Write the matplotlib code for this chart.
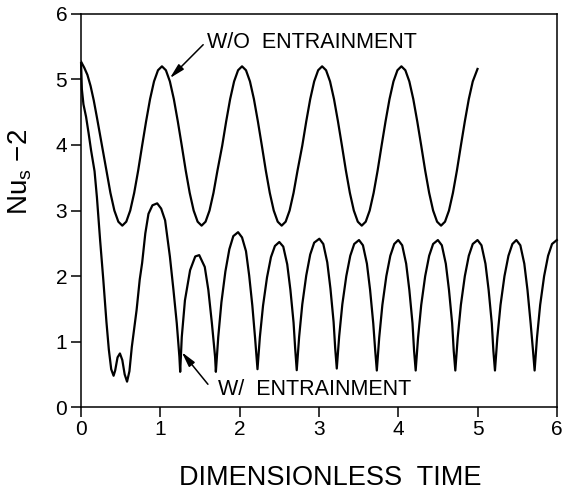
import matplotlib
matplotlib.use('Agg')
import matplotlib.pyplot as plt

matplotlib.rcParams['font.family'] = ['Liberation Sans', 'DejaVu Sans']
matplotlib.rcParams['mathtext.fontset'] = 'custom'
matplotlib.rcParams['mathtext.rm'] = 'Liberation Sans'
matplotlib.rcParams['mathtext.it'] = 'Liberation Sans:italic'

# Nu_s - 2 without entrainment
wo_t = [0.00, 0.04, 0.08, 0.12, 0.16, 0.20, 0.24, 0.28, 0.32, 0.37, 0.42, 0.47,
        0.52, 0.57, 0.62, 0.67, 0.72, 0.77, 0.82, 0.87, 0.92, 0.97,
        1.02, 1.07, 1.12, 1.17, 1.22, 1.27, 1.32, 1.37, 1.42, 1.47,
        1.52, 1.57, 1.62, 1.67, 1.72, 1.78, 1.83, 1.88, 1.93, 1.98,
        2.03, 2.08, 2.13, 2.18, 2.23, 2.28, 2.33, 2.38, 2.43, 2.48,
        2.53, 2.58, 2.63, 2.68, 2.73, 2.79, 2.84, 2.89, 2.94, 2.99,
        3.04, 3.09, 3.14, 3.19, 3.24, 3.29, 3.34, 3.39, 3.44, 3.49,
        3.54, 3.59, 3.64, 3.69, 3.74, 3.79, 3.84, 3.89, 3.94, 3.99,
        4.04, 4.09, 4.14, 4.19, 4.24, 4.29, 4.34, 4.39, 4.44, 4.49,
        4.54, 4.59, 4.64, 4.69, 4.74, 4.79, 4.84, 4.89, 4.94, 5.00]
wo_v = [5.27, 5.18, 5.07, 4.90, 4.68, 4.42, 4.15, 3.88, 3.61, 3.27, 3.00, 2.83,
        2.77, 2.83, 3.00, 3.27, 3.61, 3.99, 4.36, 4.70, 4.97, 5.14,
        5.20, 5.14, 4.97, 4.70, 4.36, 3.99, 3.61, 3.27, 3.00, 2.83,
        2.77, 2.83, 3.00, 3.27, 3.61, 3.99, 4.36, 4.70, 4.97, 5.14,
        5.20, 5.14, 4.97, 4.70, 4.36, 3.99, 3.61, 3.27, 3.00, 2.83,
        2.77, 2.83, 3.00, 3.27, 3.61, 3.99, 4.36, 4.70, 4.97, 5.14,
        5.20, 5.14, 4.97, 4.70, 4.36, 3.99, 3.61, 3.27, 3.00, 2.83,
        2.77, 2.83, 3.00, 3.27, 3.61, 3.99, 4.36, 4.70, 4.97, 5.14,
        5.20, 5.14, 4.97, 4.70, 4.36, 3.99, 3.61, 3.27, 3.00, 2.83,
        2.77, 2.83, 3.00, 3.27, 3.61, 3.99, 4.36, 4.70, 4.97, 5.16]

# Nu_s - 2 with entrainment
w_t = [0.000, 0.010, 0.030, 0.063, 0.095, 0.126, 0.150, 0.170, 0.200, 0.240,
       0.280, 0.320, 0.350, 0.380, 0.410, 0.430, 0.460, 0.490, 0.520, 0.550,
       0.580, 0.610, 0.640, 0.700, 0.740, 0.770, 0.810, 0.850, 0.900, 0.960,
       1.010, 1.060, 1.120, 1.165, 1.207, 1.240, 1.250,
       1.270, 1.310, 1.375, 1.440, 1.490, 1.560, 1.605, 1.650, 1.690, 1.700,
       1.730, 1.770, 1.820, 1.870, 1.920, 1.980, 2.030, 2.080, 2.120, 2.160, 2.195, 2.225,
       2.255, 2.295, 2.345, 2.395, 2.445, 2.500, 2.550, 2.600, 2.640, 2.680, 2.700, 2.720,
       2.750, 2.790, 2.840, 2.890, 2.940, 3.005, 3.055, 3.105, 3.145, 3.185, 3.205, 3.225,
       3.255, 3.295, 3.345, 3.395, 3.445, 3.505, 3.555, 3.605, 3.645, 3.685, 3.710, 3.730,
       3.760, 3.800, 3.850, 3.900, 3.950, 4.000, 4.050, 4.100, 4.140, 4.180, 4.200, 4.220,
       4.250, 4.290, 4.340, 4.390, 4.440, 4.500, 4.550, 4.600, 4.640, 4.680, 4.700, 4.720,
       4.750, 4.790, 4.840, 4.890, 4.940, 5.000, 5.050, 5.100, 5.140, 5.180, 5.200, 5.220,
       5.250, 5.290, 5.340, 5.390, 5.440, 5.490, 5.540, 5.590, 5.630, 5.670, 5.700, 5.720,
       5.750, 5.790, 5.840, 5.890, 5.940, 6.000]
w_v = [5.25, 4.85, 4.62, 4.43, 4.18, 3.92, 3.75, 3.60, 3.20, 2.55,
       1.95, 1.30, 0.88, 0.58, 0.48, 0.56, 0.76, 0.82, 0.72, 0.50,
       0.39, 0.55, 0.92, 1.48, 1.95, 2.20, 2.65, 2.95, 3.08, 3.11,
       3.03, 2.85, 2.30, 1.79, 1.28, 0.77, 0.54,
       1.07, 1.63, 2.09, 2.30, 2.32, 2.14, 1.79, 1.28, 0.77, 0.54,
       1.07, 1.60, 2.07, 2.41, 2.61, 2.67, 2.59, 2.38, 2.01, 1.55, 1.05, 0.58,
       1.07, 1.55, 1.98, 2.29, 2.46, 2.52, 2.45, 2.18, 1.79, 1.29, 0.90, 0.565,
       1.07, 1.57, 2.01, 2.33, 2.51, 2.57, 2.49, 2.21, 1.81, 1.30, 0.90, 0.59,
       1.08, 1.57, 2.00, 2.31, 2.49, 2.55, 2.47, 2.19, 1.79, 1.28, 0.86, 0.56,
       1.06, 1.56, 2.00, 2.31, 2.49, 2.55, 2.47, 2.19, 1.79, 1.28, 0.86, 0.56,
       1.06, 1.56, 2.00, 2.31, 2.49, 2.55, 2.47, 2.19, 1.79, 1.28, 0.86, 0.56,
       1.06, 1.56, 2.00, 2.31, 2.49, 2.55, 2.47, 2.19, 1.79, 1.28, 0.86, 0.56,
       1.06, 1.56, 2.00, 2.31, 2.49, 2.55, 2.47, 2.19, 1.79, 1.28, 0.86, 0.56,
       1.06, 1.56, 2.00, 2.31, 2.49, 2.55]

xticks = [0, 1, 2, 3, 4, 5, 6]
yticks = [0, 1, 2, 3, 4, 5, 6]

fig = plt.figure(figsize=(5.63, 4.96), dpi=100)
ax = fig.add_axes([0.144, 0.179, 0.845, 0.793])

ax.plot(wo_t, wo_v, color='k', lw=1.6)
ax.plot(w_t, w_v, color='k', lw=1.6, clip_on=False)

ax.set_xlim(0, 6)
ax.set_ylim(0, 6)
ax.set_xticks(xticks)
ax.set_yticks(yticks)
ax.tick_params(direction='out', length=7, width=1.1, labelsize=15, pad=2)
ax.tick_params(axis='y', pad=3)
for sp in ax.spines.values():
    sp.set_linewidth(1.1)

arrow = dict(arrowstyle='-|>,head_length=0.9,head_width=0.22', color='k',
             lw=1.1, shrinkA=0, shrinkB=0)
ax.annotate('', xy=(1.12, 5.02), xytext=(1.54, 5.53), arrowprops=arrow)
ax.text(1.59, 5.57, 'W/O  ENTRAINMENT', fontsize=15.5, ha='left', va='center')
ax.annotate('', xy=(1.27, 0.84), xytext=(1.60, 0.35), arrowprops=arrow)
ax.text(1.73, 0.27, 'W/  ENTRAINMENT', fontsize=15.5, ha='left', va='center')

fig.text(0.586, 0.036, 'DIMENSIONLESS  TIME', fontsize=19.5, ha='center', va='center')
fig.text(0.036, 0.653, r'$\mathregular{Nu_s}$ $-$2', fontsize=20, rotation=90,
         ha='center', va='center')

fig.savefig('out.png', dpi=100)
